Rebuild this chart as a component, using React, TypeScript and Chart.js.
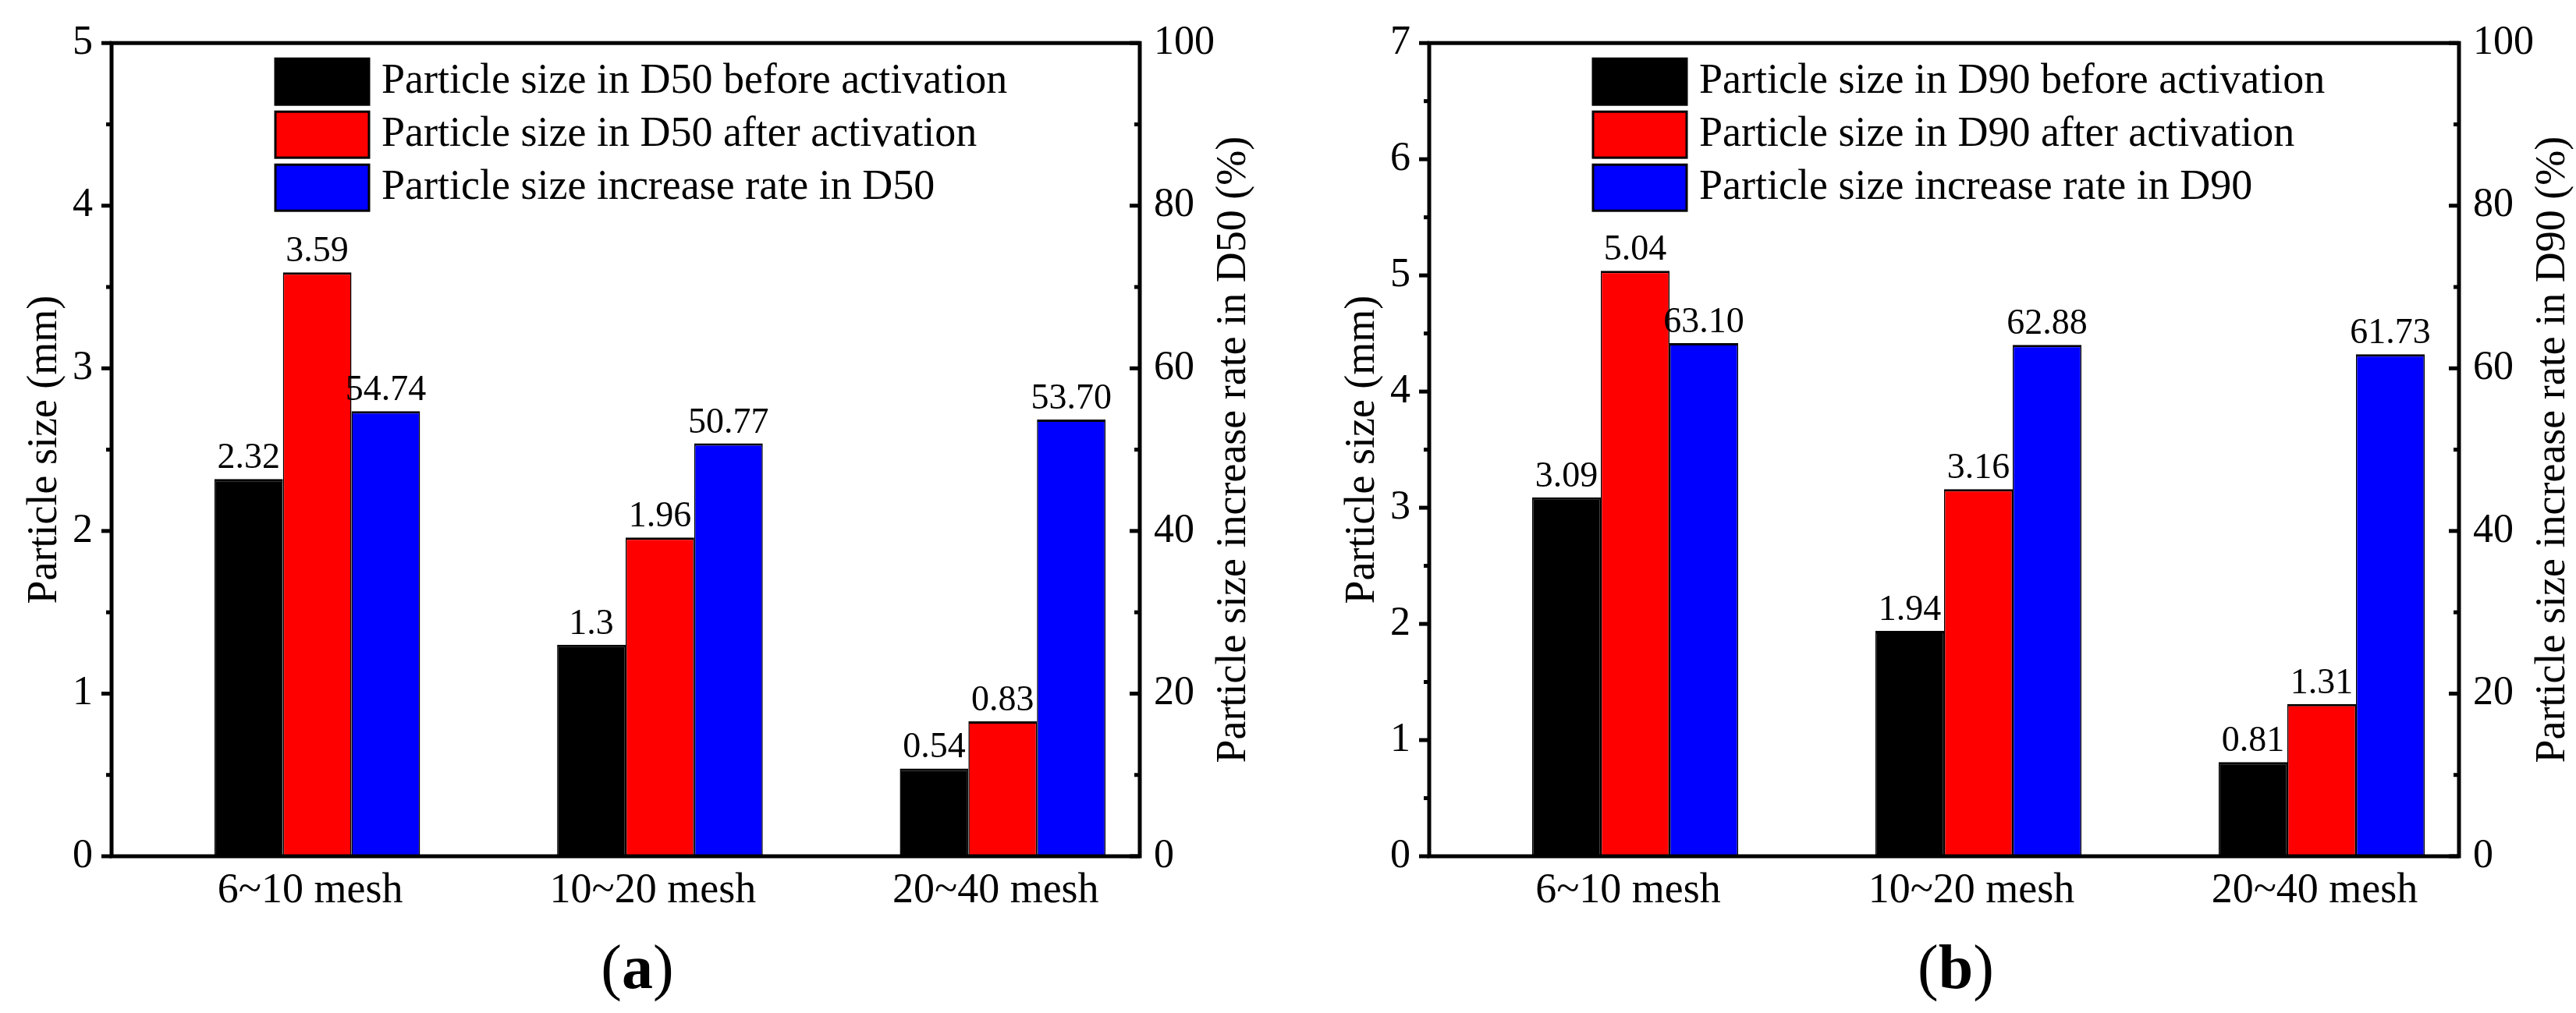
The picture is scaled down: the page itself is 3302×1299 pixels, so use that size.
import { useEffect, useRef } from "react";
import { Chart, registerables } from "chart.js";

Chart.register(...registerables);

const FONT = "'Liberation Serif', 'Times New Roman', serif";

const categories = ["6~10 mesh", "10~20 mesh", "20~40 mesh"];

// (a) D50
const d50Before = [2.32, 1.3, 0.54];
const d50After = [3.59, 1.96, 0.83];
const d50Rate = [54.74, 50.77, 53.7];

// (b) D90
const d90Before = [3.09, 1.94, 0.81];
const d90After = [5.04, 3.16, 1.31];
const d90Rate = [63.1, 62.88, 61.73];

const sizeMaxA = 5;
const sizeMaxB = 7;
const rateMax = 100;

const H = 1299;
const AREA_TOP = 33;
const AREA_BOTTOM = 1098;
const AREA_LEFT = 143;

// frame, ticks, legend, value labels, rotated titles, caption
const decor = {
  id: "decor",
  afterDatasetsDraw(chart: any, _args: any, opts: any) {
    const { ctx, chartArea: a } = chart;
    ctx.save();

    // value labels
    ctx.fillStyle = "#000";
    ctx.font = `46px ${FONT}`;
    ctx.textAlign = "center";
    ctx.textBaseline = "alphabetic";
    chart.data.datasets.forEach((ds: any, i: number) => {
      chart.getDatasetMeta(i).data.forEach((el: any, j: number) => {
        const v = ds.data[j].y;
        ctx.fillText(ds.fixed ? v.toFixed(2) : String(v), el.x, el.y - 14);
      });
    });

    // frame
    ctx.strokeStyle = "#000";
    ctx.lineWidth = 5;
    ctx.strokeRect(a.left, a.top, a.right - a.left, a.bottom - a.top);

    // ticks: left outward, right inward
    const drawTicks = (scale: any, x0: number, dir: number) => {
      const t = scale.ticks;
      t.forEach((tk: any, k: number) => {
        const py = scale.getPixelForValue(tk.value);
        ctx.beginPath();
        ctx.moveTo(x0, py);
        ctx.lineTo(x0 + dir * 13, py);
        ctx.stroke();
        if (k < t.length - 1) {
          const pm = scale.getPixelForValue((tk.value + t[k + 1].value) / 2);
          ctx.beginPath();
          ctx.moveTo(x0, pm);
          ctx.lineTo(x0 + dir * 7, pm);
          ctx.stroke();
        }
      });
    };
    drawTicks(chart.scales.y, a.left, -1);
    drawTicks(chart.scales.y1, a.right, -1);

    // legend
    chart.data.datasets.forEach((ds: any, i: number) => {
      const bx = a.left + 210;
      const by = a.top + 20 + i * 68;
      ctx.fillStyle = ds.backgroundColor;
      ctx.fillRect(bx, by, 120, 59);
      ctx.lineWidth = 3;
      ctx.strokeRect(bx, by, 120, 59);
      ctx.fillStyle = "#000";
      ctx.font = `54px ${FONT}`;
      ctx.textAlign = "left";
      ctx.textBaseline = "middle";
      ctx.fillText(ds.label, bx + 136, by + 30);
    });

    // axis titles, both reading bottom to top
    const midY = (a.top + a.bottom) / 2;
    ctx.font = `54px ${FONT}`;
    ctx.textAlign = "center";
    ctx.textBaseline = "middle";
    ctx.save();
    ctx.translate(58, midY);
    ctx.rotate(-Math.PI / 2);
    ctx.fillText(opts.leftTitle, 0, 0);
    ctx.restore();
    ctx.save();
    ctx.translate(a.right + 121, midY);
    ctx.rotate(-Math.PI / 2);
    ctx.fillText(opts.rightTitle, 0, 0);
    ctx.restore();

    // caption "(a)" with bold letter
    const reg = `80px ${FONT}`;
    const bold = `bold 80px ${FONT}`;
    ctx.font = reg;
    const wp = ctx.measureText("(").width;
    const wq = ctx.measureText(")").width;
    ctx.font = bold;
    const wl = ctx.measureText(opts.caption).width;
    let cx = (a.left + a.right) / 2 + 15 - (wp + wl + wq) / 2;
    ctx.textAlign = "left";
    ctx.textBaseline = "alphabetic";
    ctx.font = reg;
    ctx.fillText("(", cx, 1267);
    cx += wp;
    ctx.font = bold;
    ctx.fillText(opts.caption, cx, 1267);
    cx += wl;
    ctx.font = reg;
    ctx.fillText(")", cx, 1267);

    ctx.restore();
  },
};

interface PanelProps {
  left: number;
  width: number;
  right: number;
  sizeMax: number;
  before: number[];
  after: number[];
  rate: number[];
  dLabel: string;
  caption: string;
}

function Panel({ left, width, right, sizeMax, before, after, rate, dLabel, caption }: PanelProps) {
  const canvasRef = useRef<HTMLCanvasElement>(null);
  const chartRef = useRef<Chart | null>(null);

  useEffect(() => {
    if (!canvasRef.current) return;
    const pts = (arr: number[]) => arr.map((v, i) => ({ x: i, y: v }));
    const tickFont = { family: FONT, size: 52 };
    const border = {
      top: 3,
      left: 1.5,
      right: 1.5,
      bottom: 0,
    };

    chartRef.current?.destroy();
    chartRef.current = new Chart(canvasRef.current, {
      type: "bar",
      data: {
        datasets: [
          {
            label: `Particle size in ${dLabel} before activation`,
            data: pts(before),
            backgroundColor: "#000000",
            borderColor: "#000000",
            borderWidth: border,
            yAxisID: "y",
          },
          {
            label: `Particle size in ${dLabel} after activation`,
            data: pts(after),
            backgroundColor: "#ff0000",
            borderColor: "#000000",
            borderWidth: border,
            yAxisID: "y",
          },
          {
            label: `Particle size increase rate in ${dLabel}`,
            data: pts(rate),
            backgroundColor: "#0000ff",
            borderColor: "#000000",
            borderWidth: border,
            yAxisID: "y1",
            fixed: true,
          } as any,
        ],
      },
      options: {
        responsive: true,
        maintainAspectRatio: false,
        animation: false,
        layout: { padding: { top: AREA_TOP, left: 0, right: 0, bottom: 0 } },
        datasets: { bar: { barPercentage: 1, categoryPercentage: 0.6 } },
        plugins: {
          legend: { display: false },
          tooltip: { enabled: false },
          decor: {
            leftTitle: "Particle size (mm)",
            rightTitle: `Particle size increase rate in ${dLabel} (%)`,
            caption,
          },
        } as any,
        scales: {
          x: {
            type: "linear",
            min: -0.6,
            max: 2.4,
            offset: false,
            afterBuildTicks: (s: any) => {
              s.ticks = categories.map((_, i) => ({ value: i }));
            },
            afterFit: (s: any) => {
              s.height = H - AREA_BOTTOM;
            },
            grid: { display: false, drawTicks: false },
            border: { display: false },
            ticks: {
              callback: (v: any) => categories[v],
              font: { family: FONT, size: 54 },
              color: "#000",
              padding: 12,
              labelOffset: -9,
              maxRotation: 0,
              autoSkip: false,
            },
          },
          y: {
            position: "left",
            min: 0,
            max: sizeMax,
            afterFit: (s: any) => {
              s.width = AREA_LEFT;
            },
            grid: { display: false, drawTicks: false },
            border: { display: false },
            ticks: { stepSize: 1, font: tickFont, color: "#000", padding: 24 },
          },
          y1: {
            position: "right",
            min: 0,
            max: rateMax,
            afterFit: (s: any) => {
              s.width = width - right;
            },
            grid: { display: false, drawTicks: false },
            border: { display: false },
            ticks: { stepSize: 20, font: tickFont, color: "#000", padding: 18 },
          },
        },
      },
      plugins: [decor],
    });

    return () => {
      chartRef.current?.destroy();
    };
  }, [width, right, sizeMax, before, after, rate, dLabel, caption]);

  return (
    <div style={{ position: "absolute", left, top: 0, width, height: H }}>
      <canvas ref={canvasRef} />
    </div>
  );
}

export default function App() {
  return (
    <div
      style={{
        position: "absolute",
        left: 0,
        top: 0,
        width: 3302,
        height: H,
        background: "#fff",
        overflow: "hidden",
      }}
    >
      <Panel
        left={0}
        width={1651}
        right={1461}
        sizeMax={sizeMaxA}
        before={d50Before}
        after={d50After}
        rate={d50Rate}
        dLabel="D50"
        caption="a"
      />
      <Panel
        left={1689}
        width={1613}
        right={1463}
        sizeMax={sizeMaxB}
        before={d90Before}
        after={d90After}
        rate={d90Rate}
        dLabel="D90"
        caption="b"
      />
    </div>
  );
}
